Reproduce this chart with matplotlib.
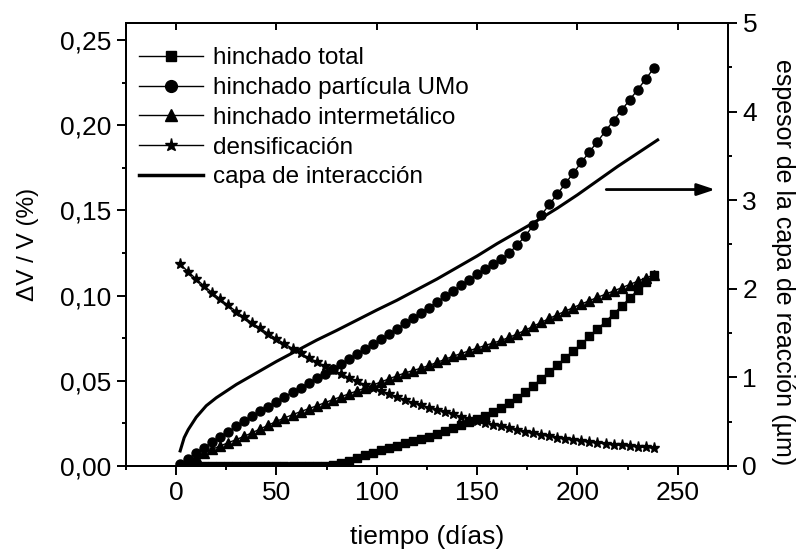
import matplotlib
matplotlib.use("Agg")
import matplotlib.pyplot as plt
from matplotlib.ticker import MultipleLocator, NullLocator, FixedLocator, FixedFormatter
from matplotlib.lines import Line2D

plt.rcParams['font.family'] = ['Liberation Sans', 'DejaVu Sans']

# dias de cada marcador (cada 4 dias)
dias = [2, 6, 10, 14, 18, 22, 26, 30, 34, 38, 42, 46, 50, 54, 58, 62, 66, 70, 74, 78,
        82, 86, 90, 94, 98, 102, 106, 110, 114, 118, 122, 126, 130, 134, 138, 142, 146, 150, 154, 158,
        162, 166, 170, 174, 178, 182, 186, 190, 194, 198, 202, 206, 210, 214, 218, 222, 226, 230, 234, 238]

hinchado_total = [0.0, 0.0, 0.0, 0.0, 0.0, 0.0, 0.0, 0.0, 0.0, 0.0,
                  0.0, 0.0, 0.0, 0.0, 0.0, 0.0, 0.0, 0.0, 0.0, 0.0005,
                  0.0015, 0.0030, 0.0047, 0.0063, 0.0078, 0.0092, 0.0106, 0.0119, 0.0132, 0.0145,
                  0.0158, 0.0172, 0.0187, 0.0203, 0.0220, 0.0238, 0.0257, 0.0276, 0.0296, 0.0317,
                  0.0340, 0.0367, 0.0398, 0.0433, 0.0472, 0.0512, 0.0553, 0.0594, 0.0635, 0.0676,
                  0.0717, 0.0760, 0.0803, 0.0847, 0.0892, 0.0938, 0.0984, 0.1032, 0.1078, 0.1122]

hinchado_umo = [0.0010, 0.0042, 0.0076, 0.0108, 0.0140, 0.0171, 0.0202, 0.0232, 0.0262, 0.0291,
                0.0320, 0.0349, 0.0377, 0.0405, 0.0433, 0.0460, 0.0487, 0.0514, 0.0541, 0.0568,
                0.0596, 0.0625, 0.0655, 0.0684, 0.0713, 0.0743, 0.0774, 0.0805, 0.0837, 0.0868,
                0.0899, 0.0930, 0.0962, 0.0995, 0.1028, 0.1061, 0.1093, 0.1124, 0.1154, 0.1184,
                0.1215, 0.1250, 0.1297, 0.1350, 0.1412, 0.1472, 0.1535, 0.1596, 0.1658, 0.1720,
                0.1782, 0.1844, 0.1904, 0.1966, 0.2027, 0.2088, 0.2148, 0.2208, 0.2270, 0.2334]

hinchado_inter = [0.0005, 0.0025, 0.0050, 0.0078, 0.0098, 0.0118, 0.0137, 0.0155, 0.0175, 0.0196,
                  0.0218, 0.0240, 0.0262, 0.0282, 0.0301, 0.0319, 0.0336, 0.0353, 0.0371, 0.0389,
                  0.0406, 0.0423, 0.0440, 0.0457, 0.0475, 0.0493, 0.0511, 0.0529, 0.0546, 0.0560,
                  0.0574, 0.0590, 0.0608, 0.0626, 0.0644, 0.0660, 0.0676, 0.0692, 0.0707, 0.0722,
                  0.0737, 0.0755, 0.0775, 0.0797, 0.0820, 0.0843, 0.0866, 0.0888, 0.0909, 0.0930,
                  0.0951, 0.0970, 0.0990, 0.1008, 0.1027, 0.1046, 0.1065, 0.1084, 0.1103, 0.1121]

densificacion = [0.1185, 0.1140, 0.1097, 0.1056, 0.1017, 0.0979, 0.0942, 0.0906, 0.0872, 0.0839,
                 0.0807, 0.0776, 0.0746, 0.0717, 0.0689, 0.0662, 0.0636, 0.0611, 0.0587, 0.0564,
                 0.0541, 0.0519, 0.0498, 0.0477, 0.0457, 0.0438, 0.0420, 0.0403, 0.0387, 0.0372,
                 0.0357, 0.0343, 0.0329, 0.0316, 0.0303, 0.0290, 0.0278, 0.0266, 0.0254, 0.0243,
                 0.0232, 0.0221, 0.0211, 0.0201, 0.0192, 0.0183, 0.0175, 0.0167, 0.0160, 0.0153,
                 0.0147, 0.0141, 0.0135, 0.0130, 0.0125, 0.0121, 0.0117, 0.0113, 0.0109, 0.0105]

# espesor de la capa de interaccion (eje derecho, um)
dias_capa = [2, 4, 6, 10, 15, 20, 30, 40, 50, 60, 70, 80, 90, 100, 110,
             120, 130, 140, 150, 160, 170, 180, 190, 200, 210, 220, 230, 240]
capa = [0.17, 0.32, 0.41, 0.55, 0.68, 0.77, 0.92, 1.05, 1.18, 1.30, 1.42, 1.53, 1.645, 1.76, 1.87,
        1.99, 2.11, 2.24, 2.37, 2.51, 2.64, 2.77, 2.91, 3.06, 3.22, 3.38, 3.53, 3.68]

x_ticks = [0, 50, 100, 150, 200, 250]
y_ticks = [0.0, 0.05, 0.10, 0.15, 0.20, 0.25]
y_ticklabels = ['0,00', '0,05', '0,10', '0,15', '0,20', '0,25']
y2_ticks = [0, 1, 2, 3, 4, 5]

fs = 19        # numeros de los ejes
fs_txt = 17.5  # leyenda

fig = plt.figure(figsize=(7.99, 5.51), dpi=100)
ax = fig.add_axes([0.1577, 0.1543, 0.7533, 0.804])
ax2 = ax.twinx()

ms_kw = dict(color='black', lw=1.0, mec='black', mfc='black')
ax.plot(dias, hinchado_total, marker='s', ms=5.3, **ms_kw)
ax.plot(dias, hinchado_umo, marker='o', ms=6.5, **ms_kw)
ax.plot(dias, hinchado_inter, marker='^', ms=7.2, **ms_kw)
ax.plot(dias, densificacion, marker='*', ms=8, **ms_kw)
ax2.plot(dias_capa, capa, color='black', lw=2.2)

ax.set_xlim(-25, 275)
ax.set_ylim(0, 0.26)
ax2.set_ylim(0, 5)

ax.xaxis.set_major_locator(FixedLocator(x_ticks))
ax.xaxis.set_minor_locator(MultipleLocator(25))
ax.yaxis.set_major_locator(FixedLocator(y_ticks))
ax.yaxis.set_major_formatter(FixedFormatter(y_ticklabels))
ax.yaxis.set_minor_locator(MultipleLocator(0.025))
ax2.yaxis.set_major_locator(FixedLocator(y2_ticks))
ax2.yaxis.set_minor_locator(MultipleLocator(0.5))

ax.tick_params(which='major', direction='out', length=6.5, width=1.4, labelsize=fs, pad=4)
ax.tick_params(which='minor', direction='out', length=3, width=1.4)
ax2.tick_params(which='major', direction='out', length=6.5, width=1.4, labelsize=fs, pad=4)
ax2.tick_params(which='minor', direction='out', length=3, width=1.4)

top = ax.secondary_xaxis('top')
top.xaxis.set_major_locator(FixedLocator(x_ticks))
top.xaxis.set_minor_locator(NullLocator())
top.tick_params(direction='in', length=5, width=1.4, labeltop=False)

for a in (ax, ax2):
    for s in a.spines.values():
        s.set_linewidth(1.4)
top.spines['top'].set_linewidth(1.4)

ax.set_xlabel('tiempo (días)', fontsize=19, labelpad=15)
ax.set_ylabel('ΔV / V (%)', fontsize=fs_txt, labelpad=15)
ax2.set_ylabel('espesor de la capa de reacción (µm)', fontsize=18, rotation=270, labelpad=27)
ax2.yaxis.label.set_y(0.46)

ax2.annotate('', xy=(270, 3.12), xytext=(213, 3.12),
             arrowprops=dict(arrowstyle='-|>,head_length=0.6,head_width=0.2', lw=2, color='black',
                             mutation_scale=18))

handles = [
    Line2D([], [], marker='s', ms=7, **ms_kw),
    Line2D([], [], marker='o', ms=8.5, **ms_kw),
    Line2D([], [], marker='^', ms=9, **ms_kw),
    Line2D([], [], marker='*', ms=9.5, **ms_kw),
    Line2D([], [], color='black', lw=2.5),
]
labels = ['hinchado total', 'hinchado partícula UMo', 'hinchado intermetálico',
          'densificación', 'capa de interacción']
ax.legend(handles, labels, loc='upper left', frameon=False, fontsize=fs_txt,
          handlelength=2.6, handletextpad=0.41, labelspacing=0.32,
          borderpad=0.4, borderaxespad=0.6, bbox_to_anchor=(-0.018, 1.0))

fig.savefig('out.png', dpi=100)
